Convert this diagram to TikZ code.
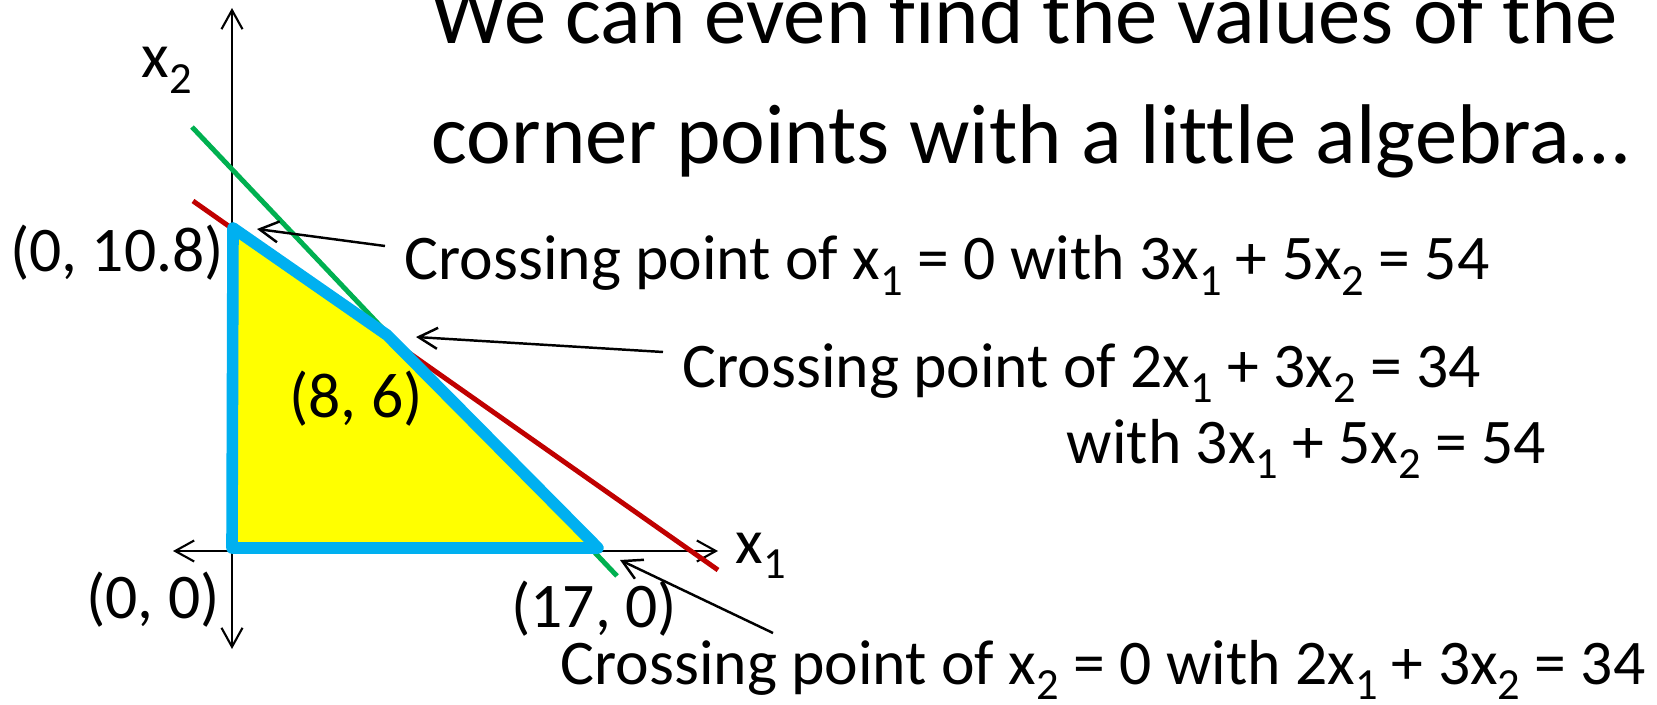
\documentclass[tikz,border=0pt]{standalone}
\usepackage{fontspec}
\setmainfont[Ligatures={NoCommon}]{Carlito}
\usetikzlibrary{arrows.meta}
\newcommand{\xsub}[1]{x\raisebox{-0.25em}{\scalebox{0.7}{#1}}}
\definecolor{regionblue}{HTML}{00B0F0}
\definecolor{regionfill}{HTML}{FFFF00}
\definecolor{linegreen}{HTML}{00B050}
\definecolor{linered}{HTML}{C00000}
\tikzset{
  barb/.tip={Straight Barb[length=0.19cm,width=0.21cm]},
  axis/.style={line width=0.6pt,barb-barb},
  callout/.style={line width=0.7pt,-barb},
  constraint/.style={line width=1.4pt},
  lbl/.style={inner sep=0pt,anchor=base,font=\fontsize{18.1}{21}\selectfont},
  note/.style={inner sep=0pt,anchor=base west,font=\fontsize{18.1}{21}\selectfont},
  headline/.style={inner sep=0pt,anchor=base west,font=\fontsize{24.1}{30}\selectfont}
}

\begin{document}
\begin{tikzpicture}
    \useasboundingbox (0,0) rectangle (16.57,7.04);
    \coordinate (O) at (2.32,1.56); \coordinate (A) at (2.33,4.76);
    \coordinate (B) at (3.87,3.69); \coordinate (C) at (5.98,1.56);
    \coordinate (yb) at (2.32,0.55); \coordinate (yt) at (2.32,6.96);
    \coordinate (xl) at (1.73,1.53); \coordinate (xr) at (7.18,1.53);
    \draw[axis] (yb)--(yt); \draw[axis] (xl)--(xr);
    \draw[constraint,linegreen] (1.92,5.77)--(6.17,1.28);
    \draw[constraint,linered] (1.93,5.03)--(7.18,1.34);
    \draw[line width=3.3pt,line join=round,regionblue,fill=regionfill] (O)--(A)--(B)--(C)--cycle;
    \node[lbl] (xtwo) at (1.67,6.26) {\xsub{2}};
    \node[lbl] (xone) at (7.61,1.41) {\xsub{1}};
    \node[lbl] (pA) at (1.17,4.32) {(0, 10.8)};
    \node[lbl] (pB) at (3.56,2.87) {(8, 6)};
    \node[lbl] (pO) at (1.53,0.86) {(0, 0)};
    \node[lbl] (pC) at (5.94,0.77) {(17, 0)};
    \node[headline] (title1) at (4.31,6.60) {We can even find the values of the};
    \node[headline] (title2) at (4.31,5.40) {corner points with a little algebra…};
    \node[note] (cross1) at (4.04,4.24) {Crossing point of \xsub{1} = 0 with 3\xsub{1} + 5\xsub{2} = 54};
    \node[note] (cross2) at (6.82,3.17) {Crossing point of 2\xsub{1} + 3\xsub{2} = 34};
    \node[note] (cross2b) at (10.66,2.41) {with 3\xsub{1} + 5\xsub{2} = 54};
    \node[note] (cross3) at (5.60,0.20) {Crossing point of \xsub{2} = 0 with 2\xsub{1} + 3\xsub{2} = 34};
    \draw[callout] ([shift={(-0.19,0.34)}]cross1.base west)--([shift={(0.24,-0.01)}]A);
    \draw[callout] ([shift={(-0.19,0.35)}]cross2.base west)--([shift={(0.29,-0.02)}]B);
    \draw[callout] ([shift={(2.13,0.51)}]cross3.base west)--([shift={(0.22,-0.12)}]C);
  \end{tikzpicture}
\end{document}
